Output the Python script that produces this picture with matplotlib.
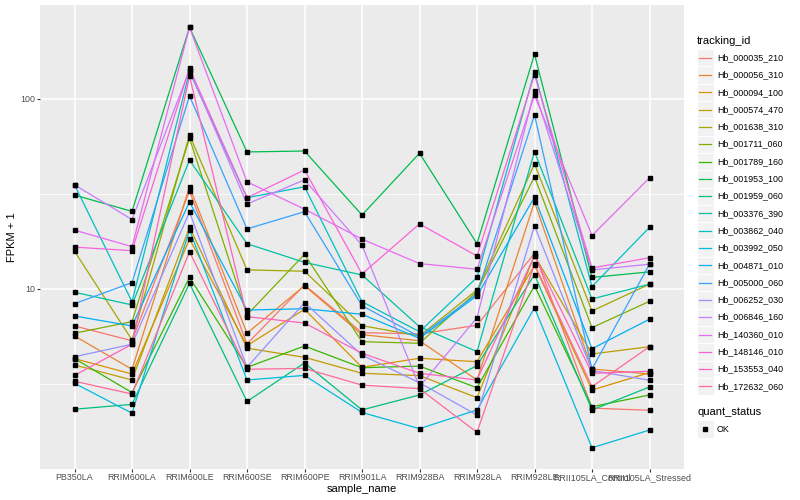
import numpy as np
import matplotlib
matplotlib.use("Agg")
import matplotlib.pyplot as plt
from matplotlib.patches import Rectangle
from matplotlib.ticker import FixedLocator, NullFormatter

plt.rcParams['font.family'] = ['Liberation Sans', 'DejaVu Sans']

samples = ["PB350LA", "RRIM600LA", "RRIM600LE", "RRIM600SE", "RRIM600PE", "RRIM901LA",
           "RRIM928BA", "RRIM928LA", "RRIM928LE", "RRII105LA_Control", "RRII105LA_Stressed"]

# FPKM + 1, one list per tracking_id (same order as samples)
hb_000035_210 = [6.39, 5.34, 32.8, 5.14, 10.5, 5.89, 5.80, 6.44, 15.4, 2.36, 2.30]
hb_000056_310 = [5.66, 3.78, 34.5, 5.85, 10.4, 5.75, 5.34, 3.32, 28.7, 3.79, 3.57]
hb_000094_100 = [4.30, 3.57, 18.3, 5.03, 7.82, 3.87, 4.32, 4.14, 13.3, 2.94, 3.63]
hb_000574_470 = [3.98, 3.32, 21.1, 4.88, 4.37, 3.60, 3.50, 2.68, 15.0, 4.55, 4.97]
hb_001638_310 = [15.8, 5.39, 64.7, 12.6, 12.4, 6.41, 5.66, 9.88, 45.5, 7.66, 10.6]
hb_001711_060 = [5.85, 6.73, 62.1, 7.30, 15.2, 5.28, 5.18, 9.68, 38.9, 6.26, 8.61]
hb_001789_160 = [4.30, 2.85, 11.5, 3.87, 5.01, 3.85, 3.93, 3.02, 10.4, 2.40, 2.77]
hb_001953_100 = [31.2, 25.6, 238, 52.6, 53.2, 24.5, 51.8, 17.3, 172, 11.5, 12.3]
hb_001959_060 = [2.33, 2.47, 10.7, 2.56, 4.08, 2.31, 2.77, 3.95, 11.9, 2.31, 3.05]
hb_003376_390 = [9.61, 8.24, 47.7, 17.3, 13.8, 11.85, 6.33, 4.68, 52.8, 8.86, 10.6]
hb_003862_040 = [35.3, 8.57, 139, 30.2, 34.5, 8.57, 5.96, 11.5, 139, 10.3, 21.1]
hb_003992_050 = [3.19, 2.22, 20.4, 3.32, 3.51, 2.24, 1.84, 2.31, 7.97, 1.46, 1.81]
hb_004871_010 = [7.21, 6.39, 28.7, 7.75, 7.87, 7.36, 5.50, 9.22, 30.4, 4.85, 6.93]
hb_005000_060 = [8.37, 10.8, 103.7, 20.7, 25.5, 8.17, 5.61, 9.41, 82.4, 3.79, 13.5]
hb_006252_030 = [4.40, 5.12, 25.4, 3.87, 8.47, 4.49, 3.21, 2.17, 21.5, 3.72, 3.31]
hb_006846_160 = [35.3, 23.2, 142, 28.0, 37.5, 17.0, 3.06, 7.06, 110.6, 12.6, 13.5]
hb_140360_010 = [20.4, 16.7, 238, 36.6, 26.3, 18.3, 13.6, 12.7, 104.6, 19.1, 38.4]
hb_148146_010 = [16.6, 15.9, 145, 30.2, 42.3, 12.0, 22.0, 14.9, 134, 12.9, 14.6]
hb_153553_040 = [3.51, 5.12, 132, 7.15, 6.62, 4.59, 3.60, 3.32, 15.0, 3.60, 3.69]
hb_172632_060 = [3.27, 2.80, 15.7, 3.78, 3.82, 3.12, 2.99, 1.76, 13.5, 3.06, 4.97]

tracking_ids = ["Hb_000035_210", "Hb_000056_310", "Hb_000094_100", "Hb_000574_470",
                "Hb_001638_310", "Hb_001711_060", "Hb_001789_160", "Hb_001953_100",
                "Hb_001959_060", "Hb_003376_390", "Hb_003862_040", "Hb_003992_050",
                "Hb_004871_010", "Hb_005000_060", "Hb_006252_030", "Hb_006846_160",
                "Hb_140360_010", "Hb_148146_010", "Hb_153553_040", "Hb_172632_060"]
series = [hb_000035_210, hb_000056_310, hb_000094_100, hb_000574_470, hb_001638_310,
          hb_001711_060, hb_001789_160, hb_001953_100, hb_001959_060, hb_003376_390,
          hb_003862_040, hb_003992_050, hb_004871_010, hb_005000_060, hb_006252_030,
          hb_006846_160, hb_140360_010, hb_148146_010, hb_153553_040, hb_172632_060]


# ggplot-like hue palette (polar LUV -> sRGB)
def hcl(h, c=100.0, l=65.0):
    h = np.deg2rad(h)
    u = c * np.cos(h)
    v = c * np.sin(h)
    Xn, Yn, Zn = 95.047, 100.0, 108.883
    t = Xn + 15 * Yn + 3 * Zn
    un, vn = 4 * Xn / t, 9 * Yn / t
    Y = Yn * ((l + 16) / 116) ** 3
    up = u / (13 * l) + un
    vp = v / (13 * l) + vn
    X = 9.0 * Y * up / (4 * vp)
    Z = -X / 3 - 5 * Y + 3 * Y / vp
    rgb = np.array([3.240479 * X - 1.537150 * Y - 0.498535 * Z,
                    -0.969256 * X + 1.875992 * Y + 0.041556 * Z,
                    0.055648 * X - 0.204043 * Y + 1.057311 * Z]) / 100
    rgb = np.where(rgb > 0.0031308, 1.055 * np.abs(rgb) ** (1 / 2.4) - 0.055, 12.92 * rgb)
    return tuple(np.clip(rgb, 0, 1))


colors = [hcl(15 + 18 * i) for i in range(len(tracking_ids))]

fig = plt.figure(figsize=(8, 5), dpi=100)
ax = fig.add_axes([40 / 800, 31.5 / 500, 644 / 800, 463.5 / 500])
ax.set_facecolor('#EBEBEB')

x = np.arange(len(samples))
for vals, col in zip(series, colors):
    ax.plot(x, vals, color=col, lw=0.9, zorder=2)
for vals in series:
    ax.plot(x, vals, ls='none', marker='s', ms=2.2, color='black', zorder=3)

ax.set_yscale('log')
ax.set_ylim(1.136, 312)
ax.set_xlim(-0.6, len(samples) - 0.4)
ax.yaxis.set_major_locator(FixedLocator([10, 100]))
ax.yaxis.set_minor_locator(FixedLocator([10 ** 0.5, 10 ** 1.5]))
ax.yaxis.set_minor_formatter(NullFormatter())
ax.set_yticklabels(["10", "100"])
ax.set_xticks(x)
ax.set_xticklabels(samples)
ax.grid(which='major', color='white', lw=1.1, zorder=0)
ax.grid(which='minor', axis='y', color='white', lw=0.55, zorder=0)
ax.set_axisbelow(True)
for s in ax.spines.values():
    s.set_visible(False)
ax.tick_params(which='major', length=2.0, width=0.8, color='#333333',
               labelsize=6.4, labelcolor='#4D4D4D', pad=1.6)
ax.tick_params(which='minor', length=0)
ax.set_xlabel("sample_name", fontsize=8, labelpad=1)
ax.set_ylabel("FPKM + 1", fontsize=8, labelpad=2)

# legend drawn in pixel coordinates
lg = fig.add_axes([0, 0, 1, 1])
lg.set_xlim(0, 800)
lg.set_ylim(500, 0)
lg.axis('off')
lg.text(697, 40.7, "tracking_id", fontsize=8, va='center', ha='left')
for i, (name, col) in enumerate(zip(tracking_ids, colors)):
    cy = 57.7 + 17.3 * i
    lg.add_patch(Rectangle((697, cy - 8.6), 16.5, 17.3, fc='#F2F2F2', ec='white', lw=0.8))
    lg.plot([698.8, 711.2], [cy, cy], color=col, lw=0.9)
    lg.text(716.8, cy, name, fontsize=6.4, va='center', ha='left')
lg.text(697, 412.3, "quant_status", fontsize=8, va='center', ha='left')
lg.add_patch(Rectangle((697, 429 - 8.6), 16.5, 17.3, fc='#F2F2F2', ec='white', lw=0.8))
lg.plot([705.2], [429], ls='none', marker='s', ms=2.2, color='black')
lg.text(716.8, 429, "OK", fontsize=6.4, va='center', ha='left')

fig.savefig("out.png", dpi=100)
